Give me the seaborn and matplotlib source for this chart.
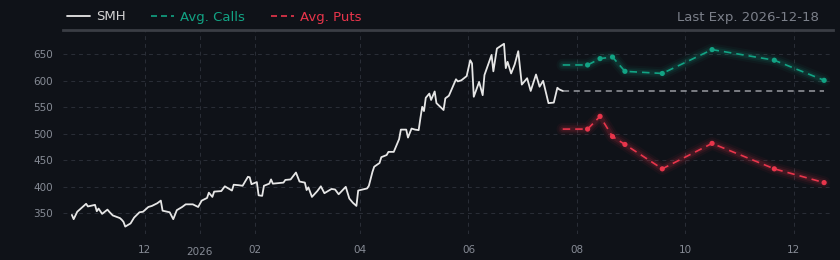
import pandas as pd
import numpy as np
import matplotlib
matplotlib.use("Agg")
import matplotlib.pyplot as plt
import seaborn as sns

# SMH closing prices
price_dates = [
    "2025-10-21", "2025-10-22", "2025-10-24", "2025-10-29", "2025-10-30", "2025-11-03",
    "2025-11-04", "2025-11-05", "2025-11-07", "2025-11-10", "2025-11-11", "2025-11-13",
    "2025-11-17", "2025-11-18", "2025-11-19", "2025-11-20", "2025-11-23", "2025-11-25",
    "2025-11-28", "2025-11-30", "2025-12-03", "2025-12-05", "2025-12-08", "2025-12-10",
    "2025-12-11", "2025-12-15", "2025-12-17", "2025-12-19", "2025-12-22", "2025-12-24",
    "2025-12-28", "2025-12-31", "2026-01-02", "2026-01-05", "2026-01-06", "2026-01-08",
    "2026-01-09", "2026-01-13", "2026-01-15", "2026-01-19", "2026-01-20", "2026-01-23",
    "2026-01-25", "2026-01-28", "2026-01-29", "2026-01-30", "2026-02-02", "2026-02-03",
    "2026-02-05", "2026-02-06", "2026-02-09", "2026-02-10", "2026-02-11", "2026-02-17",
    "2026-02-18", "2026-02-21", "2026-02-24", "2026-02-26", "2026-03-01", "2026-03-02",
    "2026-03-03", "2026-03-05", "2026-03-08", "2026-03-10", "2026-03-12", "2026-03-16",
    "2026-03-18", "2026-03-20", "2026-03-22", "2026-03-24", "2026-03-26", "2026-03-28",
    "2026-03-30", "2026-03-31", "2026-04-05", "2026-04-06", "2026-04-08", "2026-04-09",
    "2026-04-12", "2026-04-13", "2026-04-16", "2026-04-17", "2026-04-20", "2026-04-22",
    "2026-04-23", "2026-04-24", "2026-04-27", "2026-04-28", "2026-04-30", "2026-05-02",
    "2026-05-04", "2026-05-05", "2026-05-06", "2026-05-07", "2026-05-08", "2026-05-10",
    "2026-05-11", "2026-05-13", "2026-05-14", "2026-05-18", "2026-05-19", "2026-05-21",
    "2026-05-25", "2026-05-26", "2026-05-28", "2026-05-31", "2026-06-02", "2026-06-03",
    "2026-06-04", "2026-06-07", "2026-06-09", "2026-06-10", "2026-06-14", "2026-06-15",
    "2026-06-17", "2026-06-21", "2026-06-22", "2026-06-23", "2026-06-25", "2026-06-27",
    "2026-06-29", "2026-07-01", "2026-07-04", "2026-07-06", "2026-07-09", "2026-07-11",
    "2026-07-13", "2026-07-16", "2026-07-19", "2026-07-21", "2026-07-22", "2026-07-24",
]
price_values = [
    347, 339, 353, 368, 363, 366,
    354, 359, 349, 357, 353, 346,
    341, 338, 334, 325, 331, 342,
    352, 353, 362, 364, 369, 374,
    355, 352, 339, 356, 362, 367,
    367, 362, 374, 379, 389, 381,
    391, 392, 401, 393, 404, 403,
    402, 419, 418, 405, 409, 384,
    383, 402, 406, 414, 406, 408,
    413, 414, 427, 410, 408, 394,
    399, 381, 392, 401, 388, 396,
    395, 386, 393, 400, 378, 370,
    364, 393, 397, 402, 428, 438,
    445, 456, 460, 466, 466, 482,
    490, 508, 508, 493, 510, 508,
    507, 530, 551, 543, 568, 576,
    564, 580, 558, 545, 567, 572,
    603, 599, 601, 609, 639, 633,
    570, 598, 573, 611, 649, 618,
    661, 670, 624, 636, 614, 631,
    656, 593, 605, 581, 612, 589,
    600, 558, 559, 587, 584, 581,
]

# option expirations and average strikes
exp_dates = ["2026-08-07", "2026-08-14", "2026-08-21", "2026-08-28",
             "2026-09-18", "2026-10-16", "2026-11-20", "2026-12-18"]
avg_calls = [630, 642, 645, 618, 614, 659, 639, 601]
avg_puts = [509, 533, 495, 480, 434, 482, 434, 408]

tick_dates = ["2025-12-01", "2026-01-01", "2026-02-01", "2026-04-01",
              "2026-06-01", "2026-08-01", "2026-10-01", "2026-12-01"]
tick_labels = ["12", "2026", "02", "04", "06", "08", "10", "12"]

BG = "#0f1218"
GRID = "#2a2e37"
TXT = "#868b95"
TEAL = "#12a384"
RED = "#e8354b"
WHITE = "#e6e6e6"

sns.set_theme(style="dark", rc={
    "figure.facecolor": BG, "axes.facecolor": BG, "savefig.facecolor": BG,
    "axes.edgecolor": GRID, "grid.color": GRID, "text.color": TXT,
    "xtick.color": TXT, "ytick.color": TXT,
})
plt.rcParams["font.family"] = ["DejaVu Sans"]

smh = pd.DataFrame({"date": pd.to_datetime(price_dates), "price": price_values})
last_date = smh["date"].iloc[-1]
last_price = smh["price"].iloc[-1]

exp = pd.to_datetime(exp_dates)
calls_line = pd.DataFrame({"date": [last_date] + list(exp), "value": [avg_calls[0]] + avg_calls})
puts_line = pd.DataFrame({"date": [last_date] + list(exp), "value": [avg_puts[0]] + avg_puts})
calls_pts = pd.DataFrame({"date": exp, "value": avg_calls})
puts_pts = pd.DataFrame({"date": exp, "value": avg_puts})
ref_line = pd.DataFrame({"date": [last_date, exp[-1]], "value": [last_price, last_price]})

fig = plt.figure(figsize=(8.4, 2.6), dpi=100)
ax = fig.add_axes([63 / 840, 26 / 260, 770 / 840, 204 / 260])

# glow under the option lines
for lw, a in [(9, 0.05), (6, 0.08), (3.5, 0.12)]:
    sns.lineplot(data=calls_line, x="date", y="value", ax=ax, color=TEAL, lw=lw, alpha=a)
    sns.lineplot(data=puts_line, x="date", y="value", ax=ax, color=RED, lw=lw, alpha=a)

sns.lineplot(data=ref_line, x="date", y="value", ax=ax, color="#9a9ca2", lw=1.1,
             dashes=False, linestyle=(0, (4, 3)))
sns.lineplot(data=smh, x="date", y="price", ax=ax, color=WHITE, lw=1.3, label="SMH")
sns.lineplot(data=calls_line, x="date", y="value", ax=ax, color=TEAL, lw=1.2,
             linestyle=(0, (4.5, 3)), label="Avg. Calls")
sns.lineplot(data=puts_line, x="date", y="value", ax=ax, color=RED, lw=1.2,
             linestyle=(0, (4.5, 3)), label="Avg. Puts")
sns.scatterplot(data=calls_pts, x="date", y="value", ax=ax, color=TEAL, s=14,
                edgecolor="none", zorder=5)
sns.scatterplot(data=puts_pts, x="date", y="value", ax=ax, color=RED, s=14,
                edgecolor="none", zorder=5)

ax.set_xlim(pd.Timestamp("2025-10-16"), pd.Timestamp("2026-12-23"))
ax.set_ylim(311, 696)
ax.set_xticks(pd.to_datetime(tick_dates))
ax.set_xticklabels(tick_labels)
ax.set_yticks([350, 400, 450, 500, 550, 600, 650])
ax.set_xlabel("")
ax.set_ylabel("")
ax.grid(True, linestyle=(0, (4, 4)), linewidth=0.7, color=GRID)
ax.tick_params(axis="both", labelsize=7.5, colors=TXT, length=4, width=0.7,
               color=GRID, pad=3)
ax.tick_params(axis="x", pad=4)
for s in ["left", "right", "bottom"]:
    ax.spines[s].set_visible(False)
ax.spines["top"].set_color("#3a3d44")
ax.spines["top"].set_linewidth(2)

for lbl in ax.get_xticklabels():
    if lbl.get_text() == "2026":
        lbl.set_y(-0.007)

leg = ax.legend(loc="center left", bbox_to_anchor=(67 / 840, 243 / 260),
                bbox_transform=fig.transFigure, ncol=3, frameon=False,
                fontsize=9.5, handlelength=1.75, handletextpad=0.45,
                columnspacing=1.95, borderpad=0, borderaxespad=0)
for txt, c in zip(leg.get_texts(), ["#d4d4d4", TEAL, RED]):
    txt.set_color(c)
for h in leg.get_lines()[1:]:
    h.set_linestyle((0, (3.6, 2.4)))

fig.text(819 / 840, 243 / 260, "Last Exp. 2026-12-18", ha="right", va="center",
         fontsize=9.5, color="#7c808a")

fig.savefig("out.png", dpi=100, facecolor=BG)
